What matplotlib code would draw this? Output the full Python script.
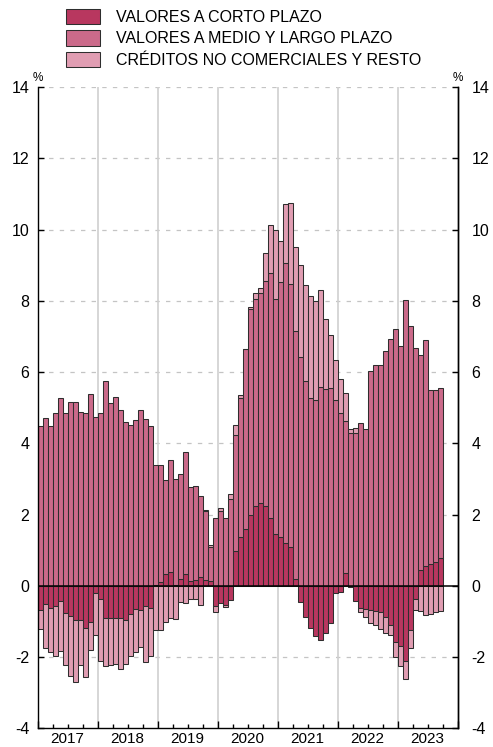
import numpy as np
import matplotlib
matplotlib.use("Agg")
import matplotlib.pyplot as plt
from matplotlib.ticker import FixedLocator, FixedFormatter, NullFormatter

plt.rcParams["font.family"] = ["Liberation Sans", "DejaVu Sans"]
plt.rcParams["axes.unicode_minus"] = False

# Monthly contributions (percentage points), Jan 2017 - Sep 2023
years = ["2017", "2018", "2019", "2020", "2021", "2022", "2023"]

short_term = [
    -0.67, -0.52, -0.62, -0.57, -0.41, -0.75, -0.83, -0.95, -0.95, -1.19, -1.01, -0.21,
    -0.36, -0.90, -0.91, -0.90, -0.91, -0.95, -0.79, -0.64, -0.67, -0.56, -0.62, 0.03,
    0.10, 0.33, 0.38, 0.02, 0.20, 0.33, 0.15, 0.18, 0.25, 0.16, 0.13, -0.56,
    -0.47, -0.53, -0.39, 0.97, 1.37, 1.60, 1.99, 2.25, 2.32, 2.23, 1.90, 1.46,
    1.37, 1.20, 1.10, 0.19, -0.46, -0.86, -1.18, -1.40, -1.53, -1.33, -1.05, -0.21,
    -0.16, 0.37, -0.04, -0.41, -0.61, -0.64, -0.67, -0.71, -0.72, -0.88, -1.10, -1.58,
    -1.68, -2.12, -1.23, -0.37, 0.44, 0.57, 0.61, 0.68, 0.78,
]

medium_long = [
    4.50, 4.71, 4.50, 4.84, 5.27, 4.86, 5.15, 5.17, 4.88, 4.86, 5.39, 4.75,
    4.86, 5.74, 5.13, 5.29, 4.94, 4.59, 4.51, 4.66, 4.93, 4.69, 4.50, 3.36,
    3.29, 2.64, 3.15, 2.99, 2.95, 3.42, 2.63, 2.62, 2.27, 1.93, 0.97, 1.92,
    2.10, 1.92, 2.45, 3.26, 3.89, 5.04, 5.78, 5.79, 5.89, 6.32, 6.87, 6.59,
    7.15, 7.86, 7.37, 6.96, 6.41, 5.74, 5.27, 5.22, 5.57, 5.53, 5.55, 5.21,
    4.86, 4.27, 4.28, 4.28, 4.56, 4.41, 6.03, 6.19, 6.19, 6.60, 6.92, 7.21,
    6.74, 8.01, 7.30, 6.67, 6.03, 6.32, 4.88, 4.83, 4.77,
]

credits_other = [
    -0.54, -1.21, -1.24, -1.40, -1.41, -1.48, -1.70, -1.74, -1.28, -1.36, -0.80, -1.18,
    -1.76, -1.34, -1.30, -1.30, -1.41, -1.24, -1.17, -1.20, -1.03, -1.57, -1.35, -1.23,
    -1.25, -1.01, -0.90, -0.93, -0.46, -0.49, -0.37, -0.38, -0.54, 0.05, 0.04, -0.17,
    0.08, -0.07, 0.13, 0.28, 0.09, 0.02, 0.07, 0.19, 0.15, 0.78, 1.36, 1.95,
    1.17, 1.65, 2.27, 2.36, 2.60, 2.70, 2.86, 2.77, 2.74, 1.97, 1.49, 1.12,
    0.94, 0.77, 0.12, 0.14, -0.13, -0.24, -0.36, -0.39, -0.49, -0.44, -0.28, -0.40,
    -0.56, -0.50, -0.52, -0.30, -0.69, -0.81, -0.78, -0.73, -0.69,
]

series = [
    ("VALORES A CORTO PLAZO", short_term, "#B8375F"),
    ("VALORES A MEDIO Y LARGO PLAZO", medium_long, "#CB6A8A"),
    ("CRÉDITOS NO COMERCIALES Y RESTO", credits_other, "#E09DB2"),
]

y_ticks = [-4, -2, 0, 2, 4, 6, 8, 10, 12, 14]
dashed_levels = [-2, 2, 4, 6, 8, 10, 12, 14]

n = len(short_term)
x = np.arange(n) + 0.5

fig = plt.figure(figsize=(4.93, 7.47), dpi=100)
ax = fig.add_axes([0.0761, 0.02477, 0.8520, 0.85876])

# grid
ax.hlines(dashed_levels, 0, 84, colors="#c4c4c4", linewidth=0.9,
          linestyles=(0, (3.5, 5.0)), zorder=0)
ax.vlines(np.arange(12, 84, 12), -4, 14, colors="#cfcfcf", linewidth=1.2, zorder=0)

# stacked bars: positives upward, negatives downward
pos_base = np.zeros(n)
neg_base = np.zeros(n)
handles = []
for label, vals, color in series:
    v = np.asarray(vals, dtype=float)
    bottom = np.where(v >= 0, pos_base, neg_base)
    bars = ax.bar(x, v, width=1.0, bottom=bottom, color=color,
                  edgecolor="#2e2e2e", linewidth=0.75, label=label, zorder=2)
    handles.append(bars)
    pos_base = pos_base + np.where(v >= 0, v, 0)
    neg_base = neg_base + np.where(v < 0, v, 0)

ax.axhline(0, color="black", linewidth=1.1, zorder=3)

ax.set_xlim(0, 84)
ax.set_ylim(-4, 14)

ax.spines["top"].set_visible(False)
for side in ("left", "right", "bottom"):
    ax.spines[side].set_linewidth(1.0)
    ax.spines[side].set_color("black")

# x axis: year boundaries (major), quarters with year labels (minor)
ax.xaxis.set_major_locator(FixedLocator(np.arange(0, 85, 12)))
ax.xaxis.set_major_formatter(NullFormatter())
q_pos, q_lab = [], []
for k, yr in enumerate(years):
    for m, lab in ((3, ""), (6, yr), (9, "")):
        q_pos.append(12 * k + m)
        q_lab.append(lab)
ax.xaxis.set_minor_locator(FixedLocator(q_pos))
ax.xaxis.set_minor_formatter(FixedFormatter(q_lab))
ax.tick_params(axis="x", which="major", direction="in", length=5, width=1.0)
ax.tick_params(axis="x", which="minor", direction="in", length=3, width=1.0,
               pad=2.5, labelsize=11)

# y axes on both sides
ax.set_yticks(y_ticks)
ax.tick_params(axis="y", direction="in", length=4, width=1.0, pad=6,
               labelsize=11.5, right=False)
ax2 = ax.twinx()
ax2.set_ylim(ax.get_ylim())
ax2.set_yticks(y_ticks)
ax2.tick_params(axis="y", direction="in", length=4, width=1.0, pad=10,
                labelsize=11.5)
for side in ("top", "left", "bottom"):
    ax2.spines[side].set_visible(False)
ax2.spines["right"].set_linewidth(1.0)

ax.text(0, 1.004, "%", transform=ax.transAxes, ha="center", va="bottom", fontsize=8.5)
ax.text(1, 1.004, "%", transform=ax.transAxes, ha="center", va="bottom", fontsize=8.5)

fig.legend(handles=handles, loc="upper left", bbox_to_anchor=(66 / 493, 1 - 9 / 747),
           frameon=False, fontsize=11.5, handlelength=2.15, handleheight=1.1,
           handletextpad=1.0, labelspacing=0.33, borderpad=0, borderaxespad=0)

fig.savefig("out.png", dpi=100)
